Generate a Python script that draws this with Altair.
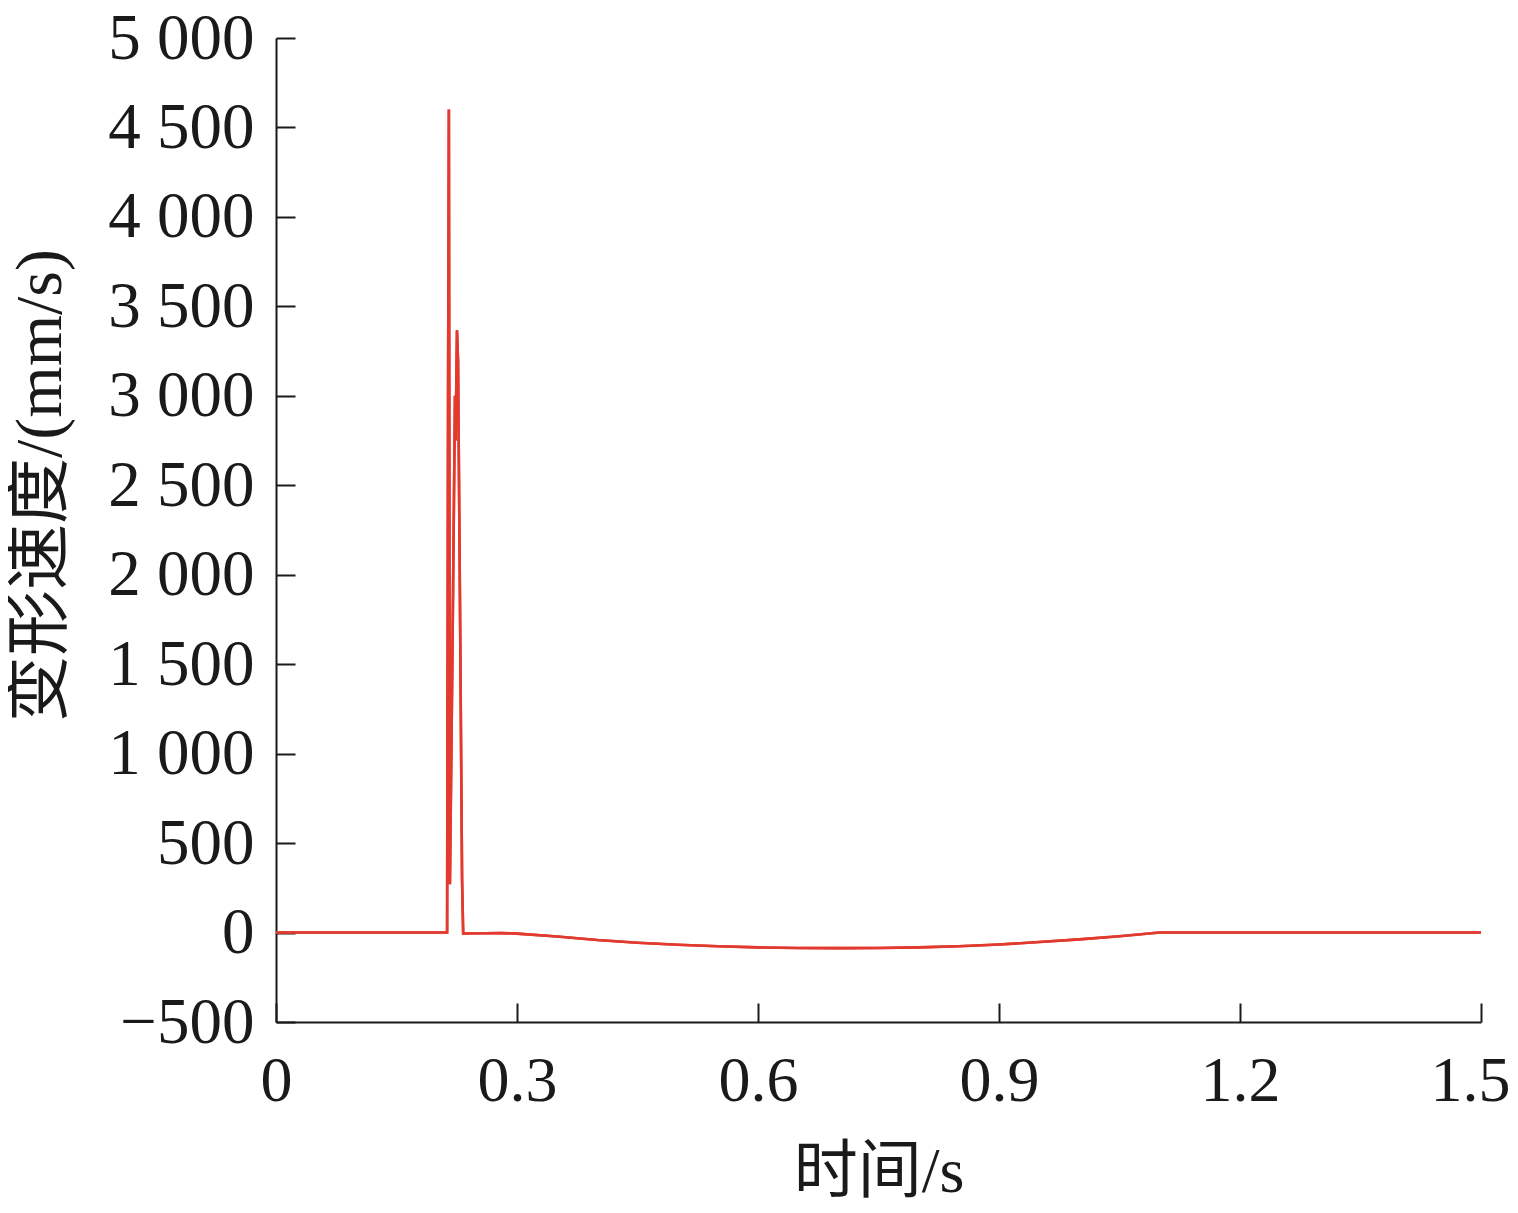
import altair as alt
import pandas as pd

time_s = [0.0, 0.2130, 0.2142, 0.2152, 0.2165, 0.2195, 0.2228, 0.2236, 0.2253, 0.2266,
          0.2291, 0.2316, 0.2330, 0.26, 0.28, 0.30, 0.35, 0.40, 0.45, 0.50, 0.55, 0.60,
          0.65, 0.70, 0.75, 0.80, 0.85, 0.90, 0.95, 1.00, 1.05, 1.10, 1.20, 1.30, 1.40, 1.50]
velocity = [0, 0, 3000, 4600, 270, 1500, 3000, 2750, 3366, 3200,
            1800, 300, -5, -4, -3, -6, -22, -42, -57, -68, -77, -83,
            -86, -87, -86, -83, -77, -67, -53, -38, -21, 0, 0, 0, 0, 0]

x_ticks = [0, 0.3, 0.6, 0.9, 1.2, 1.5]
y_ticks = [-500, 0, 500, 1000, 1500, 2000, 2500, 3000, 3500, 4000, 4500, 5000]

df = pd.DataFrame({"t": time_s, "v": velocity})

FONT = "Liberation Serif, Noto Sans CJK SC"
RED = "#E23A2E"
INK = "#1a1a1a"
W, H = 1205, 984

xs = alt.Scale(domain=[0, 1.5], nice=False, zero=False)
ys = alt.Scale(domain=[-500, 5000], nice=False, zero=False)

main = alt.Chart(df).mark_line(color=RED, strokeWidth=2.6, interpolate="linear").encode(
    x=alt.X("t:Q", scale=xs, axis=alt.Axis(
        values=x_ticks, title="时间/s", ticks=False, labelFontSize=64, labelFont=FONT,
        labelColor=INK, labelPadding=27, labelFlush=False,
        labelOffset={"condition": {"test": "datum.value >= 1.5", "value": -11}, "value": 0},
        labelExpr="datum.value == 0 ? '0' : format(datum.value, '.1f')",
        titleFont=FONT, titleFontSize=64, titleFontWeight="normal", titleColor=INK,
        titlePadding=27, domainColor=INK, domainWidth=2, grid=False)),
    y=alt.Y("v:Q", scale=ys, axis=alt.Axis(
        values=y_ticks, title="变形速度/(mm/s)", ticks=False, labelFontSize=65, labelFont=FONT,
        labelColor=INK, labelPadding=22,
        labelExpr="replace(format(datum.value, ','), ',', ' ')",
        titleFont=FONT, titleFontSize=66, titleFontWeight="normal", titleColor=INK,
        titleX=-236, titleY=447, titleAngle=-90, titleAlign="center", titleBaseline="middle",
        domainColor=INK, domainWidth=2, grid=False)),
)

ticks_layer = alt.Chart(df).mark_line(color=RED, strokeWidth=2.6).encode(
    x=alt.X("t:Q", scale=xs, axis=alt.Axis(
        orient="top", offset=-H, values=x_ticks, labels=False, title=None, domain=False,
        ticks=True, tickSize=19, tickWidth=2, tickColor=INK, grid=False)),
    y=alt.Y("v:Q", scale=ys, axis=alt.Axis(
        orient="right", offset=-W, values=y_ticks, labels=False, title=None, domain=False,
        ticks=True, tickSize=19, tickWidth=2, tickColor=INK, grid=False)),
)

chart = alt.layer(main, ticks_layer).resolve_axis(x="independent", y="independent").properties(
    width=W, height=H,
    background="white",
    autosize=alt.AutoSizeParams(type="none"),
    padding={"left": 268, "top": 30, "right": 29, "bottom": 178},
).configure_view(stroke=None, strokeWidth=0)

chart.save("out.html", embed_options={"renderer": "svg", "actions": False})
